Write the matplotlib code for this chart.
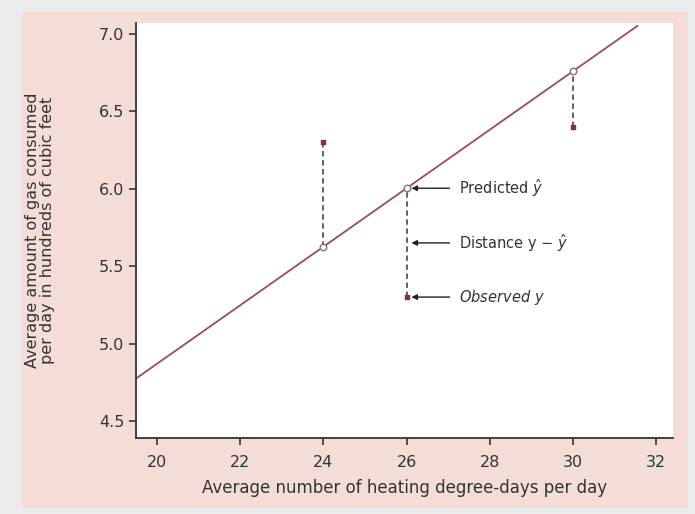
import numpy as np
import matplotlib.pyplot as plt
from matplotlib.patches import Rectangle

# regression line y = a + b*x
a, b = 1.0892, 0.1890
degree_days = [24, 26, 30]
observed = [6.3, 5.3, 6.4]
xticks = [20, 22, 24, 26, 28, 30, 32]
yticks = [4.5, 5.0, 5.5, 6.0, 6.5, 7.0]

line_col = '#9a4c5c'
pink = '#f3ddd6'

fig = plt.figure(figsize=(6.95, 5.14), dpi=100)
fig.patch.set_facecolor('#ebebeb')
card = Rectangle((0.032, 0.012), 0.958, 0.965, transform=fig.transFigure,
                 facecolor=pink, edgecolor='none', zorder=-10)
fig.add_artist(card)

ax = fig.add_axes([0.196, 0.148, 0.772, 0.807])
ax.set_facecolor('white')
ax.set_xlim(19.5, 32.4)
ax.set_ylim(4.39, 7.07)

xx = np.array([19.5, 31.55])
ax.plot(xx, a + b * xx, color=line_col, lw=1.3, zorder=2)

pred = [a + b * x for x in degree_days]
for x, yo, yp in zip(degree_days, observed, pred):
    ax.plot([x, x], [yo, yp], ls=(0, (3, 2)), color='#555555', lw=1.3, zorder=3)
ax.scatter(degree_days, observed, s=12, marker='s', color='#8e2a3c', zorder=4)
ax.scatter(degree_days, pred, s=22, facecolor='white', edgecolor='#777777', lw=1, zorder=4)

# annotations at x = 26
x0 = 26
yp26 = a + b * x0
labels = [(yp26, r'Predicted $\hat{y}$'), (5.65, r'Distance y $-$ $\hat{y}$'),
          (5.3, r'Observed $y$')]
for yy, txt in labels:
    ax.annotate('', xy=(x0 + 0.05, yy), xytext=(27.1, yy),
                arrowprops=dict(arrowstyle='-|>', color='#222222', lw=1,
                                mutation_scale=8))
    ax.text(27.25, yy, txt, va='center', ha='left', fontsize=10.5, color='#333333',
            style='italic' if 'Observed' in txt else 'normal')

ax.set_xticks(xticks)
ax.set_yticks(yticks)
ax.set_yticklabels(['%.1f' % v for v in yticks])
ax.tick_params(labelsize=11.5, colors='#333333', length=5, width=1.2)
ax.tick_params(axis='x', pad=7)
for s in ['top', 'right']:
    ax.spines[s].set_visible(False)
for s in ['left', 'bottom']:
    ax.spines[s].set_color('#333333')
    ax.spines[s].set_linewidth(1.3)

ax.set_xlabel('Average number of heating degree-days per day', fontsize=12,
              color='#333333', labelpad=7)
ax.set_ylabel('Average amount of gas consumed\nper day in hundreds of cubic feet',
              fontsize=11.5, color='#333333', labelpad=32, linespacing=1.0)

fig.savefig('out.png', dpi=100, facecolor=fig.get_facecolor())
